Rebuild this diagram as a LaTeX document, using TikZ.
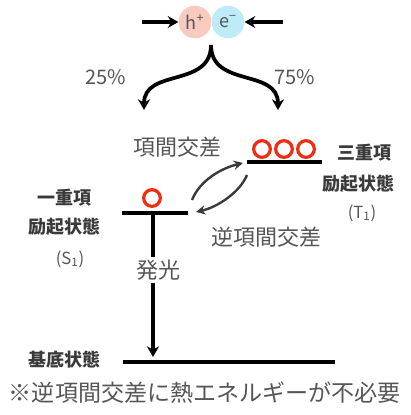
\documentclass[tikz,border=0pt]{standalone}
\usepackage{fontspec}
\setmainfont{Noto Sans CJK JP}
\newfontfamily\jp{Noto Sans CJK JP}
\usetikzlibrary{arrows.meta}
\definecolor{txtgray}{HTML}{555555}
\definecolor{lblgray}{HTML}{3A3A3A}
\definecolor{holepink}{HTML}{F9CBC0}
\definecolor{eleccyan}{HTML}{BDEBF8}
\definecolor{spinred}{HTML}{EE2E12}
\tikzset{
  note/.style={text=txtgray, font=\jp\fontsize{16.5}{18}\selectfont, inner sep=0pt},
  pct/.style={text=txtgray, font=\jp\fontsize{15}{17}\selectfont, inner sep=0pt},
  statelbl/.style={text=lblgray, font=\jp\bfseries\fontsize{13.5}{15}\selectfont, inner sep=0pt},
  sublbl/.style={text=txtgray, font=\jp\fontsize{12.5}{14}\selectfont, inner sep=0pt},
  carrier/.style={circle, minimum size=24.5pt, inner sep=0pt, text=txtgray, font=\jp\fontsize{13.5}{15}\selectfont},
  spin/.style={circle, draw=spinred, line width=2.4pt, minimum size=12.5pt, inner sep=0pt},
  level/.style={line width=2.3pt, black},
  thick arrow/.style={line width=2.8pt, -{Stealth[length=8pt,width=9pt]}},
  isc/.style={line width=1.8pt, draw=lblgray, -{Stealth[length=7pt,width=7pt]}}
}
\begin{document}
\begin{tikzpicture}[x=0.75pt,y=-0.75pt]
\useasboundingbox (0,0) rectangle (411,415);

% charge carriers
\node[carrier, fill=holepink] (h) at (195,22) {h\textsuperscript{+}};
\node[carrier, fill=eleccyan] (e) at (228,22) {e\textsuperscript{−}};
\coordinate (hin) at (142,22);
\coordinate (ein) at (283,22);
\draw[thick arrow] (hin) -- (h.west);
\draw[thick arrow] (ein) -- (e.east);

% recombination splitting into singlet / triplet
\coordinate (stem) at (211,45);
\coordinate (toS) at (144,110);
\coordinate (toT) at (278,110);
\draw[thick arrow] (stem) .. controls (211,88) and (144,68) .. (toS);
\draw[thick arrow] (stem) .. controls (211,88) and (278,68) .. (toT);
\node[pct] (p25) at (106,77) {25\%};
\node[pct] (p75) at (295,77) {75\%};

% triplet state
\coordinate (T1a) at (247,162);
\coordinate (T1b) at (322,162);
\draw[level] (T1a) -- (T1b);
\node[spin] (t1) at (262,149) {};
\node[spin] (t2) at (284,149) {};
\node[spin] (t3) at (306,149) {};
\node[statelbl] (Tname) at (364,153) {三重項};
\node[statelbl] (Texc) at (358,184) {励起状態};
\node[sublbl] (Tsym) at (362,213) {(T\textsubscript{1})};

% singlet state
\coordinate (S1a) at (122,213);
\coordinate (S1b) at (188,213);
\draw[level] (S1a) -- (S1b);
\node[spin] (s1) at (152,198) {};
\node[statelbl] (Sname) at (64,198) {一重項};
\node[statelbl] (Sexc) at (64,227) {励起状態};
\node[sublbl] (Ssym) at (70,259) {(S\textsubscript{1})};

% intersystem crossing and its reverse
\coordinate (iscA) at (192,200);
\coordinate (iscB) at (243,163);
\coordinate (riscA) at (247,175);
\coordinate (riscB) at (196,212);
\draw[isc] (iscA) .. controls (200,180) and (222,168) .. (iscB);
\draw[isc] (riscA) .. controls (240,192) and (218,207) .. (riscB);
\node[note] (iscl) at (177,147) {項間交差};
\node[note] (riscl) at (266,237) {逆項間交差};

% emission to the ground state
\coordinate (Gl) at (123,362);
\coordinate (Gr) at (335,362);
\draw[level] (Gl) -- (Gr);
\coordinate (emitTop) at (153,213);
\coordinate (emitEnd) at (153,357);
\node[note, fill=white, inner sep=2pt] (emit) at (159,270) {発光};
\draw[line width=2.3pt] (emitTop) -- (emit.north -| emitTop);
\draw[thick arrow, line width=2.3pt] (emit.south -| emitTop) -- (emitEnd);
\node[statelbl] (G) at (64,360) {基底状態};

% footnote
\node[note, font=\jp\fontsize{17.3}{19}\selectfont] (foot) at (205,393) {※逆項間交差に熱エネルギーが不必要};
\end{tikzpicture}
\end{document}
